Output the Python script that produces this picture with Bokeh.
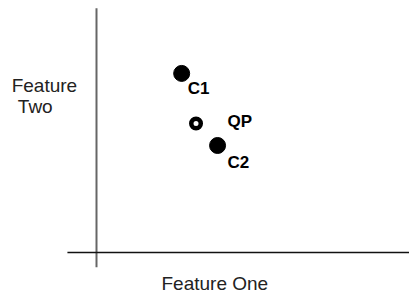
from bokeh.plotting import figure
from bokeh.models import Range1d, Label, ColumnDataSource
from bokeh.embed import file_html
from bokeh.resources import INLINE

# Data
centroid_names = ["C1", "C2"]
centroid_x = [2.49, 3.54]
centroid_y = [7.33, 4.38]
query_names = ["QP"]
query_x = [2.91]
query_y = [5.28]
x_title = "Feature One"
y_title_lines = ["Feature", "Two"]

# Layout (axis extents in data units)
X_MIN, X_MAX = -2.807, 9.152
Y_MIN, Y_MAX = -1.842, 10.315
X_AXIS_START = -0.85
Y_AXIS_START, Y_AXIS_END = -0.6, 10.0

FONT = "Liberation Sans"

p = figure(width=409, height=297, output_backend="svg", toolbar_location=None,
           x_axis_type=None, y_axis_type=None,
           x_range=Range1d(X_MIN, X_MAX), y_range=Range1d(Y_MIN, Y_MAX),
           min_border=0)
p.grid.visible = False
p.outline_line_color = None
p.background_fill_color = "white"
p.border_fill_color = "white"

# axis lines
p.segment(x0=[0], y0=[Y_AXIS_START], x1=[0], y1=[Y_AXIS_END], line_color="#666666", line_width=2)
p.segment(x0=[X_AXIS_START], y0=[0], x1=[X_MAX], y1=[0], line_color="#111111", line_width=1.5)

csrc = ColumnDataSource(dict(x=centroid_x, y=centroid_y, name=centroid_names,
                             dx=[6, 10], dy=[15, 17]))
p.scatter("x", "y", source=csrc, size=16, marker="circle", fill_color="black", line_color="black")
p.text("x", "y", text="name", source=csrc, x_offset="dx", y_offset="dy",
       text_font={"value": FONT}, text_font_style="bold", text_font_size="17px",
       text_color="black", text_baseline="alphabetic", text_align="left")

qsrc = ColumnDataSource(dict(x=query_x, y=query_y, name=query_names, dx=[31.5], dy=[-2]))
p.scatter("x", "y", source=qsrc, size=9.5, marker="circle", fill_color="white",
          line_color="black", line_width=4.5)
p.text("x", "y", text="name", source=qsrc, x_offset="dx", y_offset="dy",
       text_font={"value": FONT}, text_font_style="bold", text_font_size="17px",
       text_color="black", text_baseline="alphabetic", text_align="left")

lab_style = dict(text_font=FONT, text_font_size="19px", text_color="#222222",
                 text_baseline="alphabetic", text_align="left")
p.add_layout(Label(x=-2.48, y=6.84, text=y_title_lines[0], **lab_style))
p.add_layout(Label(x=-2.30, y=5.98, text=y_title_lines[1], **lab_style))
p.add_layout(Label(x=1.90, y=-1.27, text=x_title, **lab_style))

open("out.html", "w").write(file_html(p, INLINE))
